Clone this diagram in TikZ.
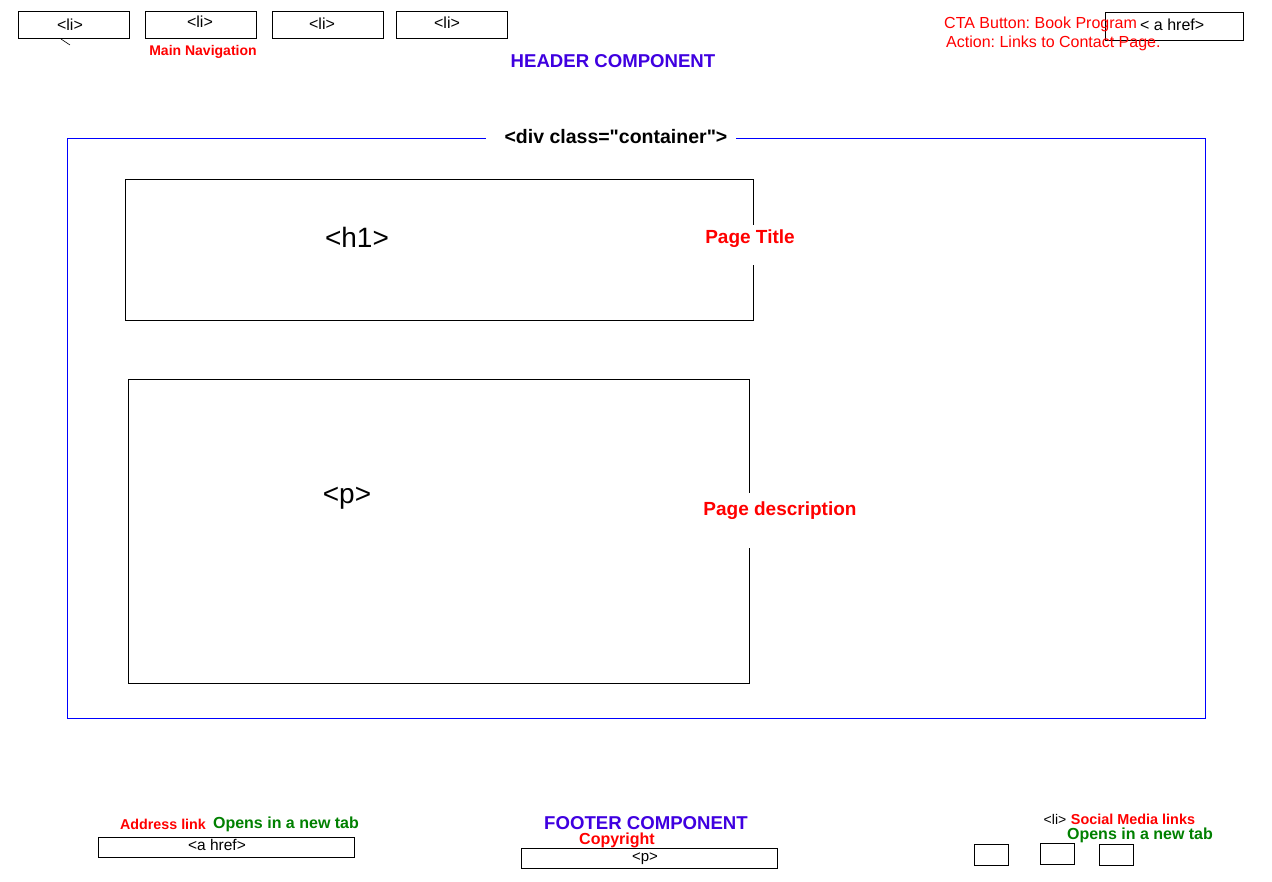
\documentclass[tikz,border=0pt]{standalone}
\usepackage{fontspec}
\setmainfont{Liberation Sans}
\frenchspacing
\definecolor{labelred}{HTML}{FF0000}
\definecolor{compblue}{HTML}{3F00E0}
\definecolor{tabgreen}{HTML}{008000}
\definecolor{boxblue}{HTML}{0000FF}
\tikzset{
  elbox/.style={draw=black, line width=0.8pt, fill=none},
  tagtext/.style={font=\fontsize{#1}{#1}\selectfont, text=black, inner sep=0pt},
  redlabel/.style={font=\fontsize{#1}{#1}\selectfont\bfseries, text=labelred, inner sep=0pt},
  notelabel/.style={font=\fontsize{#1}{#1}\selectfont, text=labelred, inner sep=0pt, anchor=west},
  complabel/.style={font=\fontsize{18.6}{18.6}\selectfont\bfseries, text=compblue, inner sep=0pt},
  greenlabel/.style={font=\fontsize{16}{16}\selectfont\bfseries, text=tabgreen, inner sep=0pt},
  cutlabel/.style={font=\fontsize{19}{19}\selectfont\bfseries, text=labelred, inner sep=0pt},
}
\begin{document}
\begin{tikzpicture}[x=1pt,y=-1pt]
\useasboundingbox (0,0) rectangle (1272,882);

% ---------- header: navigation list ----------
\draw[elbox] (18,11) rectangle (129,38);
\draw[elbox] (145,11) rectangle (256,38);
\draw[elbox] (272,11) rectangle (383,38);
\draw[elbox] (396,11) rectangle (507,38);
\node[tagtext=16] (li1) at (70,25) {<li>};
\node[tagtext=16] (li2) at (200,22) {<li>};
\node[tagtext=16] (li3) at (322,24) {<li>};
\node[tagtext=16] (li4) at (447,23) {<li>};
\coordinate (mk1) at (61,39);
\coordinate (mk2) at (70,45);
\draw[line width=0.6pt] (mk1) -- (mk2);
\node[redlabel=14] (mainnav) at (203,52) {Main Navigation};

\node[complabel] (header) at (613,61) {HEADER COMPONENT};

% ---------- header: call to action ----------
\draw[elbox] (1105,12) rectangle (1243,40);
\node[tagtext=16, anchor=west] (cta) at (1140,25) {< a href>};
\node[notelabel=16] (ctanote1) at (944,24) {CTA Button: Book Program};
\node[notelabel=16] (ctanote2) at (946,43) {Action: Links to Contact Page.};

% ---------- main container ----------
\draw[draw=boxblue, line width=0.8pt] (67,138) rectangle (1205,718);
\fill[white] (486,128) rectangle (736,148);
\node[font=\fontsize{19.5}{19.5}\selectfont\bfseries, inner sep=0pt] (container) at (616,137) {<div class=\textquotedbl container\textquotedbl>};

\draw[elbox] (125,179) rectangle (753,320);
\node[tagtext=28] (h1) at (357,237) {<h1>};
\fill[white] (702,225) rectangle (798,265);
\node[cutlabel] (pagetitle) at (750,239) {Page Title};

\draw[elbox] (128,379) rectangle (749,683);
\node[tagtext=28] (para) at (347,498) {<p>};
\fill[white] (703,493) rectangle (857,548);
\node[cutlabel] (pagedesc) at (780,511) {Page description};

% ---------- footer ----------
\node[redlabel=14.3] (addr) at (163,824) {Address link};
\node[greenlabel] (addrtab) at (286,824) {Opens in a new tab};
\draw[elbox] (98,837) rectangle (354,857);
\node[tagtext=15.5] (addrlink) at (217,845) {<a href>};

\node[complabel] (footer) at (646,823) {FOOTER COMPONENT};
\node[redlabel=16] (copy) at (617,840) {Copyright};
\draw[elbox] (521,848) rectangle (777,868);
\node[tagtext=15] (copyp) at (645,859) {<p>};

\node[tagtext=14] (socli) at (1055,819) {<li>};
\node[redlabel=14.4] (social) at (1133,819) {Social Media links};
\node[greenlabel] (socialtab) at (1140,835) {Opens in a new tab};
\draw[elbox] (974,844) rectangle (1008,865);
\draw[elbox] (1040,843) rectangle (1074,864);
\draw[elbox] (1099,844) rectangle (1133,865);

\end{tikzpicture}
\end{document}
